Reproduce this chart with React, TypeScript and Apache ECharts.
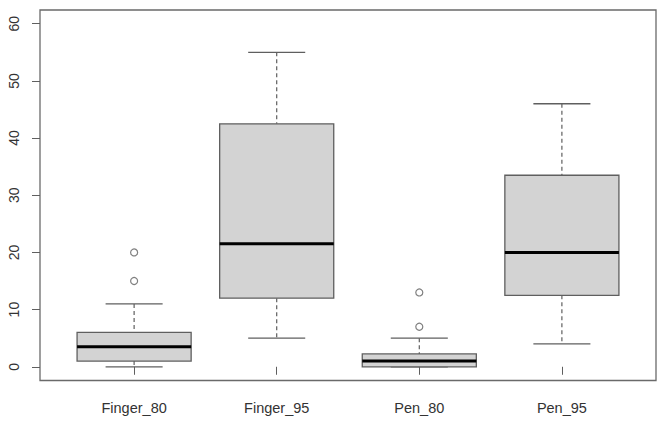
import React, { useEffect, useRef } from "react";
import * as echarts from "echarts";

const categories = ["Finger_80", "Finger_95", "Pen_80", "Pen_95"];
const lowerWhisker = [0, 5, 0, 4];
const q1 = [1, 12, 0, 12.5];
const median = [3.5, 21.5, 1, 20];
const q3 = [6, 42.5, 2.25, 33.5];
const upperWhisker = [11, 55, 5, 46];
const outliers = [[15, 20], [], [7, 13], []];
const yTicks = [0, 10, 20, 30, 40, 50, 60];
const xTicks = [1, 2, 3, 4];

export default function App() {
  const ref = useRef<HTMLDivElement>(null);
  useEffect(() => {
    if (!ref.current) return;
    const chart = echarts.init(ref.current, null, { renderer: "svg" });
    const boxData = categories.map((_, i) => [
      i + 1,
      lowerWhisker[i],
      q1[i],
      median[i],
      q3[i],
      upperWhisker[i],
    ]);
    const outlierData: number[][] = [];
    outliers.forEach((arr, i) => arr.forEach((v) => outlierData.push([i + 1, v])));
    const gray = "#5f5f5f";
    chart.setOption({
      animation: false,
      backgroundColor: "#fff",
      grid: {
        left: 40,
        top: 10,
        width: 616,
        height: 370.5,
        show: true,
        borderColor: "#6a6a6a",
        borderWidth: 1.3,
        backgroundColor: "transparent",
      },
      xAxis: {
        type: "value",
        min: 0.34,
        max: 4.66,
        axisLine: { show: false },
        splitLine: { show: false },
        axisTick: {
          show: true,
          customValues: xTicks,
          length: 8,
          lineStyle: { color: gray, width: 1 },
        },
        axisLabel: {
          customValues: xTicks,
          margin: 20,
          fontFamily: "Liberation Sans, Arial, sans-serif",
          fontSize: 14.5,
          color: "#333",
          formatter: (v: number) => categories[Math.round(v) - 1] ?? "",
        },
      },
      yAxis: {
        type: "value",
        min: -2.4,
        max: 62.4,
        axisLine: { show: false },
        splitLine: { show: false },
        axisTick: {
          show: true,
          customValues: yTicks,
          length: 8,
          lineStyle: { color: gray, width: 1 },
        },
        axisLabel: {
          customValues: yTicks,
          rotate: 90,
          margin: 19,
          fontFamily: "Liberation Sans, Arial, sans-serif",
          fontSize: 14,
          color: "#333",
        },
      },
      series: [
        {
          type: "custom",
          data: boxData,
          renderItem: (params: any, api: any) => {
            const x = api.value(0);
            const lw = api.value(1);
            const a = api.value(2);
            const m = api.value(3);
            const b = api.value(4);
            const uw = api.value(5);
            const half = 0.4;
            const cap = 0.2;
            const pLT = api.coord([x - half, b]);
            const pRB = api.coord([x + half, a]);
            const pMedL = api.coord([x - half, m]);
            const pMedR = api.coord([x + half, m]);
            const pUw = api.coord([x, uw]);
            const pB = api.coord([x, b]);
            const pA = api.coord([x, a]);
            const pLw = api.coord([x, lw]);
            const capUL = api.coord([x - cap, uw]);
            const capUR = api.coord([x + cap, uw]);
            const capLL = api.coord([x - cap, lw]);
            const capLR = api.coord([x + cap, lw]);
            const dashStyle = { stroke: gray, lineWidth: 1.2, lineDash: [4, 3] };
            const solid = { stroke: gray, lineWidth: 1.3 };
            return {
              type: "group",
              children: [
                { type: "line", shape: { x1: pUw[0], y1: pUw[1], x2: pB[0], y2: pB[1] }, style: dashStyle },
                { type: "line", shape: { x1: pA[0], y1: pA[1], x2: pLw[0], y2: pLw[1] }, style: dashStyle },
                { type: "line", shape: { x1: capUL[0], y1: capUL[1], x2: capUR[0], y2: capUR[1] }, style: solid },
                { type: "line", shape: { x1: capLL[0], y1: capLL[1], x2: capLR[0], y2: capLR[1] }, style: solid },
                {
                  type: "rect",
                  shape: { x: pLT[0], y: pLT[1], width: pRB[0] - pLT[0], height: pRB[1] - pLT[1] },
                  style: { fill: "#d3d3d3", stroke: gray, lineWidth: 1.3 },
                },
                {
                  type: "line",
                  shape: { x1: pMedL[0], y1: pMedL[1], x2: pMedR[0], y2: pMedR[1] },
                  style: { stroke: "#000", lineWidth: 3 },
                },
              ],
            };
          },
        },
        {
          type: "scatter",
          data: outlierData,
          symbol: "circle",
          symbolSize: 7,
          itemStyle: { color: "#fff", borderColor: gray, borderWidth: 1.2 },
        },
      ],
    });
    return () => chart.dispose();
  }, []);
  return (
    <div
      ref={ref}
      style={{ position: "fixed", left: 0, top: 0, width: 662, height: 421 }}
    />
  );
}
